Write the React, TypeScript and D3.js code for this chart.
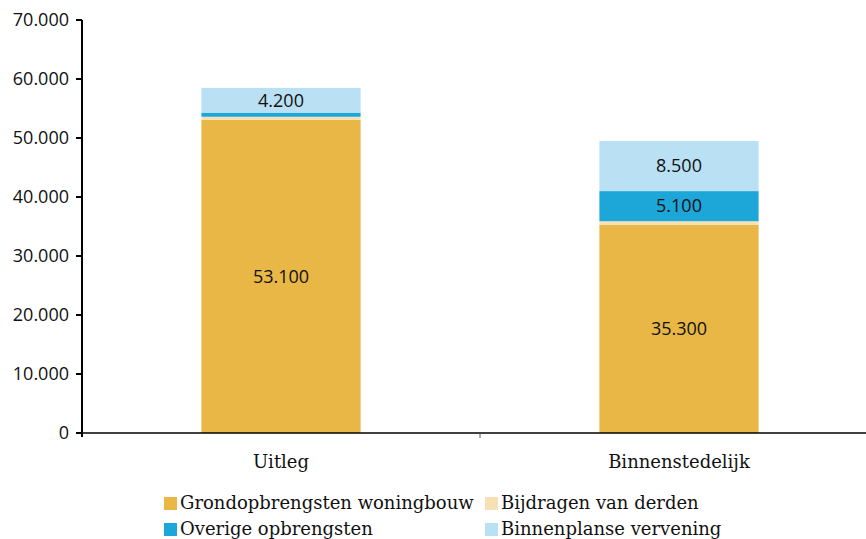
import React from "react";
import * as d3 from "d3";

const categories = ["Uitleg", "Binnenstedelijk"];
const seriesNames = [
  "Grondopbrengsten woningbouw",
  "Bijdragen van derden",
  "Overige opbrengsten",
  "Binnenplanse vervening",
];
const grondopbrengsten = [53100, 35300];
const bijdragen = [500, 600];
const overige = [700, 5100];
const binnenplanse = [4200, 8500];
const labelThreshold = 2000;
const colors = ["#E8B746", "#F6E0B4", "#1DA6D8", "#B9E0F3"];
const yTicks = [0, 10000, 20000, 30000, 40000, 50000, 60000, 70000];

const W = 866;
const H = 539;
const left = 82;
const top = 20;
const bottom = 433;
const right = 878;

const fmt = (v: number) =>
  String(v).replace(/\B(?=(\d{3})+(?!\d))/g, ".");

export default function App() {
  const seriesValues = [grondopbrengsten, bijdragen, overige, binnenplanse];
  const data = categories.map((c, i) => {
    const o: any = { cat: c };
    seriesNames.forEach((s, j) => (o[s] = seriesValues[j][i]));
    return o;
  });
  const stack = d3.stack().keys(seriesNames)(data);
  const x = d3.scaleBand().domain(categories).range([left, right]).paddingInner(0.6).paddingOuter(0.3);
  const xb = d3.scaleBand().domain(categories).range([left, right]);
  const y = d3.scaleLinear().domain([0, 70000]).range([bottom, top]);
  const sans = "'Open Sans', 'Noto Sans', sans-serif";
  const serif = "'DejaVu Serif', serif";

  return (
    <svg width={W} height={H} style={{ position: "absolute", left: 0, top: 0 }}>
      <rect width={W} height={H} fill="#fff" />
      {stack.map((s, j) => (
        <g key={s.key}>
          {s.map((d, i) => (
            <g key={i}>
              <rect
                x={x(categories[i])}
                width={x.bandwidth()}
                y={y(d[1])}
                height={y(d[0]) - y(d[1])}
                fill={colors[j]}
              />
              {d[1] - d[0] >= labelThreshold && (
                <text
                  x={x(categories[i])! + x.bandwidth() / 2}
                  y={(y(d[0]) + y(d[1])) / 2}
                  dy="0.35em"
                  textAnchor="middle"
                  fontFamily={sans}
                  fontSize={18}
                  fill="#111"
                >
                  {fmt(d[1] - d[0])}
                </text>
              )}
            </g>
          ))}
        </g>
      ))}
      {/* y axis */}
      <line x1={left} x2={left} y1={top} y2={bottom + 4} stroke="#000" strokeWidth={2} />
      {yTicks.map((t) => (
        <g key={t}>
          <line x1={left - 6} x2={left} y1={y(t)} y2={y(t)} stroke="#000" strokeWidth={2} />
          <text
            x={left - 13}
            y={y(t)}
            dy="0.35em"
            textAnchor="end"
            fontFamily={sans}
            fontSize={18}
            fill="#111"
          >
            {fmt(t)}
          </text>
        </g>
      ))}
      {/* x axis */}
      <line x1={left} x2={W} y1={bottom} y2={bottom} stroke="#000" strokeWidth={1.5} />
      {categories.map((c, i) =>
        i > 0 ? (
          <line key={c} x1={xb(c)} x2={xb(c)} y1={bottom} y2={bottom + 5} stroke="#555" strokeWidth={1} />
        ) : null
      )}
      {categories.map((c) => (
        <text
          key={c}
          x={xb(c)! + xb.bandwidth() / 2}
          y={468}
          textAnchor="middle"
          fontFamily={serif}
          fontSize={18}
          fill="#111"
        >
          {c}
        </text>
      ))}
      {/* legend */}
      {seriesNames.map((s, j) => {
        const col = j % 2;
        const row = Math.floor(j / 2);
        const lx = col === 0 ? 164 : 485;
        const ly = row === 0 ? 509 : 535;
        return (
          <g key={s}>
            <rect x={lx} y={ly - 12} width={13} height={13} fill={colors[j]} />
            <text x={lx + 16} y={ly} fontFamily={serif} fontSize={18} fill="#111">
              {s}
            </text>
          </g>
        );
      })}
    </svg>
  );
}
